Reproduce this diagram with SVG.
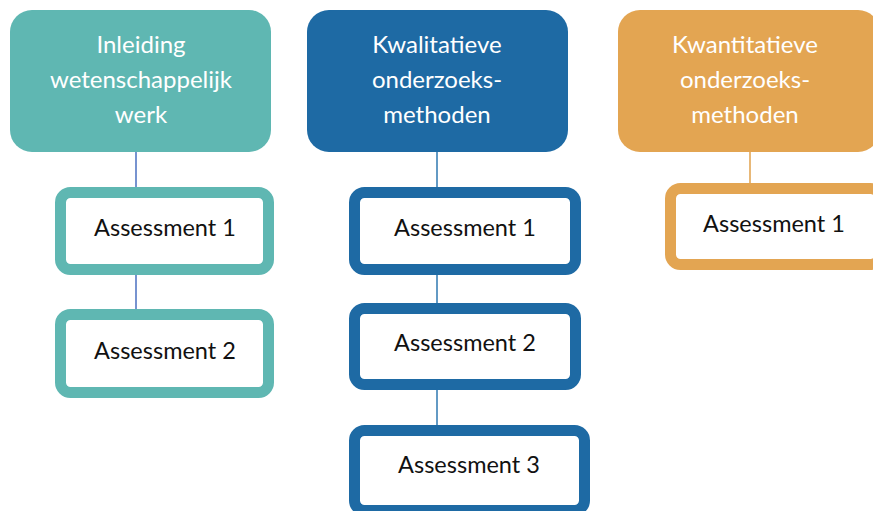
<svg xmlns="http://www.w3.org/2000/svg" width="873" height="511" viewBox="0 0 873 511">
<style>
.hdr{font-family:Lato,"Liberation Sans",Arial,sans-serif;font-size:24px;fill:#ffffff;text-anchor:middle}
.lbl{font-family:Lato,"Liberation Sans",Arial,sans-serif;font-size:23.5px;fill:#111111;text-anchor:middle}
.box{fill:#ffffff;stroke-width:11}
.teal{stroke:#5fb7b2}
.blue{stroke:#1e6aa4}
.orange{stroke:#e3a552}
</style>
<rect width="873" height="511" fill="#ffffff"/>
<g id="connectors" stroke-width="1.5">
<line x1="136" y1="152" x2="136" y2="188" stroke="#4a6fc0"/>
<line x1="136" y1="274" x2="136" y2="310" stroke="#4a6fc0"/>
<line x1="437" y1="152" x2="437" y2="188" stroke="#2f79b0"/>
<line x1="437" y1="274" x2="437" y2="304" stroke="#2f79b0"/>
<line x1="437" y1="389" x2="437" y2="426" stroke="#2f79b0"/>
<line x1="750" y1="152" x2="750" y2="184" stroke="#e8b878" stroke-width="2"/>
</g>
<g id="h-teal">
<rect x="10" y="10" width="261" height="142" rx="22" fill="#5fb7b2"/>
<text class="hdr" x="141" y="53">Inleiding</text>
<text class="hdr" x="141" y="88">wetenschappelijk</text>
<text class="hdr" x="141" y="123">werk</text>
</g>
<g id="h-blue">
<rect x="307" y="10" width="261" height="142" rx="22" fill="#1e6aa4"/>
<text class="hdr" x="437" y="53">Kwalitatieve</text>
<text class="hdr" x="437" y="88">onderzoeks-</text>
<text class="hdr" x="437" y="123">methoden</text>
</g>
<g id="h-orange">
<rect x="618" y="10" width="262" height="142" rx="22" fill="#e3a552"/>
<text class="hdr" x="745" y="53">Kwantitatieve</text>
<text class="hdr" x="745" y="88">onderzoeks-</text>
<text class="hdr" x="745" y="123">methoden</text>
</g>
<g id="teal-a1">
<rect class="box teal" x="60.5" y="192.5" width="208" height="77" rx="10"/>
<text class="lbl" x="165" y="236">Assessment 1</text>
</g>
<g id="teal-a2">
<rect class="box teal" x="60.5" y="314.5" width="208" height="78" rx="10"/>
<text class="lbl" x="165" y="359">Assessment 2</text>
</g>
<g id="blue-a1">
<rect class="box blue" x="354.5" y="192.5" width="221" height="77" rx="10"/>
<text class="lbl" x="465" y="236">Assessment 1</text>
</g>
<g id="blue-a2">
<rect class="box blue" x="354.5" y="308.5" width="221" height="76" rx="10"/>
<text class="lbl" x="465" y="351">Assessment 2</text>
</g>
<g id="blue-a3">
<rect class="box blue" x="354.5" y="430.5" width="230" height="80" rx="10"/>
<text class="lbl" x="469" y="473">Assessment 3</text>
</g>
<g id="orange-a1">
<rect class="box orange" x="670.5" y="188.5" width="210" height="76" rx="10"/>
<text class="lbl" x="774" y="232">Assessment 1</text>
</g>
</svg>
